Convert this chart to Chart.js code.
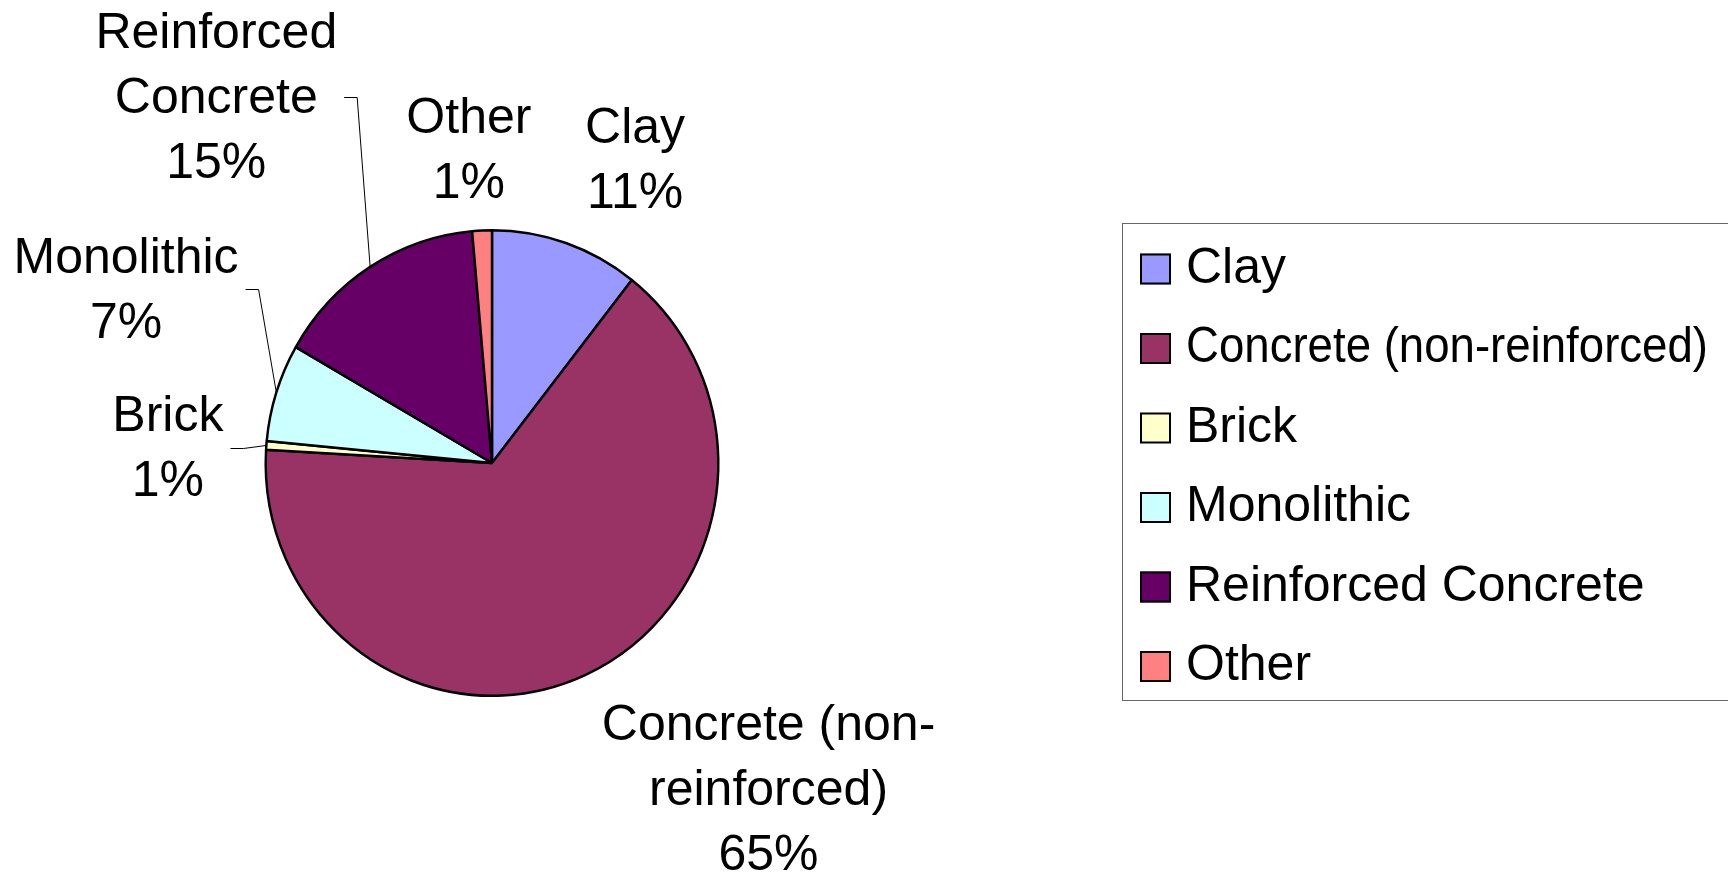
<!DOCTYPE html>
<html>
<head>
<meta charset="utf-8">
<title>Pipe material</title>
<script src="https://cdn.jsdelivr.net/npm/chart.js@4.4.1/dist/chart.umd.min.js"></script>
<style>
    html, body { margin: 0; padding: 0; background: #fff; }
    #wrap { position: relative; width: 1728px; height: 882px; }
</style>
</head>
<body>
<div id="wrap"><canvas id="myPieChart"></canvas></div>
<script>
// Shares (percent)
const categories = ['Clay', 'Concrete (non-reinforced)', 'Brick', 'Monolithic', 'Reinforced Concrete', 'Other'];
const shares = [10.6, 65.3, 0.6, 6.8, 15.3, 1.4];
const sliceColors = ['#9999FF', '#993366', '#FFFFCC', '#CCFFFF', '#660066', '#FF8080'];
// how the slice labels wrap
const labelLines = [['Clay'], ['Concrete (non-', 'reinforced)'], ['Brick'], ['Monolithic'], ['Reinforced', 'Concrete'], ['Other']];

const FONT = '50px "Liberation Sans", Arial, sans-serif';
const LINE_H = 65;
// the original pie is a touch taller than wide
const OVAL_X = 0.985, OVAL_Y = 1.013;

// label placement, offset from the middle of each slice's rim
const labelNudge = [[68, -84], [182, 119], [-95, 4], [-147, -102], [-152, -170], [-13, -82]];
const labelLeader = [false, false, true, true, true, false];

// Squeeze the pie into a slight oval, like the original
const ovalPie = {
    id: 'ovalPie',
    beforeDatasetsDraw(chart) {
        const arc = chart.getDatasetMeta(0).data[0];
        const ctx = chart.ctx;
        ctx.save();
        ctx.translate(arc.x, arc.y);
        ctx.scale(OVAL_X, OVAL_Y);
        ctx.translate(-arc.x, -arc.y);
    },
    afterDatasetsDraw(chart) {
        chart.ctx.restore();
    }
};

// Draws the "Name / xx%" labels round the pie, with leader lines where needed
const sliceLabels = {
    id: 'sliceLabels',
    afterDatasetsDraw(chart) {
        const ctx = chart.ctx;
        const meta = chart.getDatasetMeta(0);
        const values = chart.data.datasets[0].data;
        const total = values.reduce((a, b) => a + b, 0);
        ctx.save();
        ctx.font = FONT;
        ctx.fillStyle = '#000';
        ctx.strokeStyle = '#000';
        ctx.lineWidth = 1;
        ctx.textAlign = 'center';
        ctx.textBaseline = 'middle';
        meta.data.forEach((arc, i) => {
            const p = arc.getProps(['x', 'y', 'startAngle', 'endAngle', 'outerRadius'], true);
            const mid = (p.startAngle + p.endAngle) / 2;
            const rx = p.x + Math.cos(mid) * p.outerRadius;
            const ry = p.y + Math.sin(mid) * p.outerRadius;
            const lines = labelLines[i].concat([Math.round(values[i] / total * 100) + '%']);
            const cx = rx + labelNudge[i][0];
            const cy = ry + labelNudge[i][1];
            const top = cy - (lines.length - 1) * LINE_H / 2;
            lines.forEach((t, k) => ctx.fillText(t, cx, top + k * LINE_H));
            if (labelLeader[i]) {
                const w = Math.max(...lines.map(t => ctx.measureText(t).width));
                const ex = cx + w / 2 + 7;
                const ey = Math.round(cy - 2) + 0.5;
                ctx.beginPath();
                ctx.moveTo(ex, ey);
                ctx.lineTo(ex + 13, ey);
                ctx.lineTo(p.x + Math.cos(mid) * p.outerRadius * OVAL_X,
                           p.y + Math.sin(mid) * p.outerRadius * OVAL_Y);
                ctx.stroke();
            }
        });
        ctx.restore();
    }
};

// Legend in a framed box on the right
const boxLegend = {
    id: 'boxLegend',
    afterDraw(chart, args, opts) {
        const ctx = chart.ctx;
        const colors = chart.data.datasets[0].backgroundColor;
        ctx.save();
        ctx.strokeStyle = '#666';
        ctx.lineWidth = 1;
        ctx.strokeRect(opts.left + 0.5, opts.top + 0.5, opts.width, opts.height);
        ctx.font = FONT;
        ctx.textAlign = 'left';
        ctx.textBaseline = 'middle';
        chart.data.labels.forEach((name, i) => {
            const y = opts.firstRow + i * opts.rowStep;
            const s = opts.swatch;
            ctx.fillStyle = colors[i];
            ctx.fillRect(opts.swatchX, y - s / 2, s, s);
            ctx.strokeStyle = '#000';
            ctx.lineWidth = 2;
            ctx.strokeRect(opts.swatchX + 1, y - s / 2 + 1, s - 2, s - 2);
            ctx.fillStyle = '#000';
            ctx.fillText(name, opts.textX, y, opts.maxText);
        });
        ctx.restore();
    }
};

var ctx = document.getElementById('myPieChart');
var myPieChart = new Chart(ctx, {
    type: 'pie',
    data: {
        labels: categories,
        datasets: [{
            data: shares,
            backgroundColor: sliceColors,
            borderColor: '#000',
            borderWidth: 2.5
        }]
    },
    options: {
        responsive: true,
        maintainAspectRatio: false,
        animation: false,
        layout: {
            padding: { left: 0, right: 744, top: 232, bottom: 188 }
        },
        plugins: {
            legend: { display: false },
            tooltip: { enabled: false },
            boxLegend: {
                left: 1122, top: 223, width: 700, height: 477,
                swatchX: 1140, swatch: 31, textX: 1186,
                firstRow: 269, rowStep: 79.5, maxText: 522
            }
        }
    },
    plugins: [ovalPie, sliceLabels, boxLegend]
});
</script>
</body>
</html>
